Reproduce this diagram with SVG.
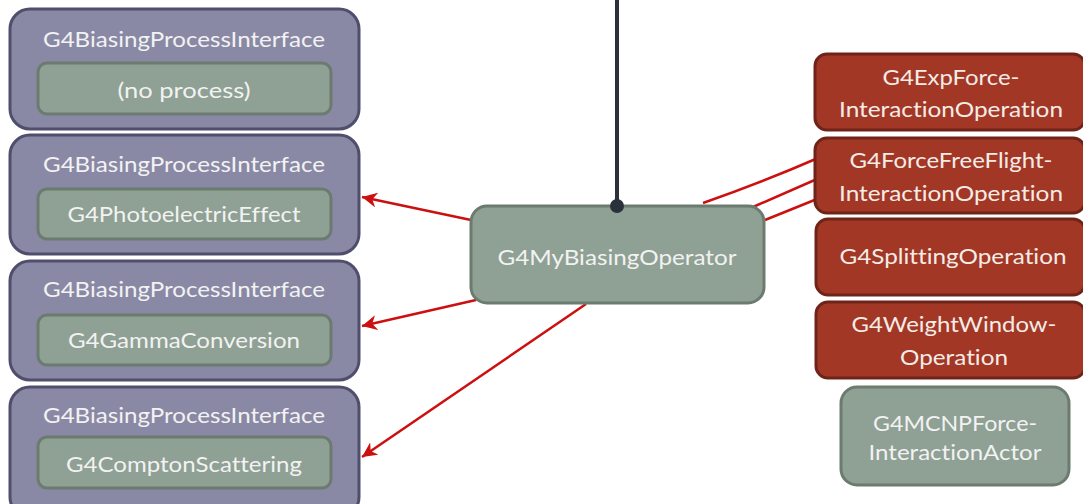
<svg xmlns="http://www.w3.org/2000/svg" width="1083" height="504" viewBox="0 0 1083 504">
  <defs>
    <style>
      .outer { fill: #8a89a5; stroke: #4f4e6c; stroke-width: 3; }
      .inner { fill: #8fa094; stroke: #6b7b6f; stroke-width: 3; }
      .op { fill: #a33726; stroke: #6e2419; stroke-width: 3; }
      .actor { fill: #8fa094; stroke: #6b7b6f; stroke-width: 3; }
      text { font-family: Lato, "Open Sans", "Liberation Sans", sans-serif; font-size: 21.5px; text-anchor: middle; font-variant-ligatures: none; font-feature-settings: "liga" 0, "dlig" 0, "clig" 0; }
      .lt { fill: #f2f2f2; }
      .rt { fill: #f5ece6; }
      .link { fill: none; stroke: #cc1010; stroke-width: 2.5; }
    </style>
    <marker id="arr" markerUnits="userSpaceOnUse" markerWidth="17" markerHeight="15" refX="15" refY="7.5" orient="auto">
      <path d="M0,0 L15,7.5 L0,15 L4.5,7.5 z" fill="#cc1010"/>
    </marker>
  </defs>
  <rect width="1083" height="504" fill="#ffffff"/>

  <!-- process interface stack -->
  <g id="pi-none">
    <rect class="outer" x="10" y="9" width="349" height="120" rx="20"/>
    <text class="lt" x="184" y="47" textLength="282" lengthAdjust="spacingAndGlyphs">G4BiasingProcessInterface</text>
    <rect class="inner" x="38" y="63" width="293" height="51" rx="9"/>
    <text class="lt" x="184" y="98" textLength="133" lengthAdjust="spacingAndGlyphs">(no process)</text>
  </g>
  <g id="pi-photo">
    <rect class="outer" x="10" y="135" width="349" height="119" rx="20"/>
    <text class="lt" x="184" y="172" textLength="282" lengthAdjust="spacingAndGlyphs">G4BiasingProcessInterface</text>
    <rect class="inner" x="38" y="189" width="293" height="50" rx="9"/>
    <text class="lt" x="184" y="222" textLength="233" lengthAdjust="spacingAndGlyphs">G4PhotoelectricEffect</text>
  </g>
  <g id="pi-conv">
    <rect class="outer" x="10" y="261" width="349" height="119" rx="20"/>
    <text class="lt" x="184" y="297" textLength="282" lengthAdjust="spacingAndGlyphs">G4BiasingProcessInterface</text>
    <rect class="inner" x="38" y="315" width="293" height="50" rx="9"/>
    <text class="lt" x="184" y="348" textLength="232" lengthAdjust="spacingAndGlyphs">G4GammaConversion</text>
  </g>
  <g id="pi-compt">
    <rect class="outer" x="10" y="387" width="349" height="130" rx="20"/>
    <text class="lt" x="184" y="423" textLength="282" lengthAdjust="spacingAndGlyphs">G4BiasingProcessInterface</text>
    <rect class="inner" x="38" y="437" width="293" height="51" rx="9"/>
    <text class="lt" x="184" y="472" textLength="236" lengthAdjust="spacingAndGlyphs">G4ComptonScattering</text>
  </g>

  <!-- connectors -->
  <g id="connectors">
    <line x1="617" y1="0" x2="617" y2="206" stroke="#2a313b" stroke-width="4"/>
    <path class="link" d="M471,220 L362,197" marker-end="url(#arr)"/>
    <path class="link" d="M476,300 L362,326" marker-end="url(#arr)"/>
    <path class="link" d="M586,304 L362,457" marker-end="url(#arr)"/>
    <path class="link" d="M703,203 Q763,182 818,158"/>
    <path class="link" d="M753,207 L817,179"/>
    <path class="link" d="M765,220 L817,199"/>
  </g>

  <!-- operator -->
  <g id="operator">
    <rect class="inner" x="471" y="206" width="293" height="97" rx="16"/>
    <text class="lt" x="617" y="265" textLength="239" lengthAdjust="spacingAndGlyphs">G4MyBiasingOperator</text>
    <circle cx="617" cy="206" r="7" fill="#2a313b"/>
  </g>

  <!-- operations -->
  <g id="op-expforce">
    <rect class="op" x="815" y="54" width="270" height="76" rx="12"/>
    <text class="rt" x="951" y="85" textLength="137" lengthAdjust="spacingAndGlyphs">G4ExpForce-</text>
    <text class="rt" x="951" y="117" textLength="224" lengthAdjust="spacingAndGlyphs">InteractionOperation</text>
  </g>
  <g id="op-forcefree">
    <rect class="op" x="815" y="138" width="270" height="75" rx="12"/>
    <text class="rt" x="951" y="168" textLength="203" lengthAdjust="spacingAndGlyphs">G4ForceFreeFlight-</text>
    <text class="rt" x="951" y="201" textLength="224" lengthAdjust="spacingAndGlyphs">InteractionOperation</text>
  </g>
  <g id="op-splitting">
    <rect class="op" x="816" y="219" width="269" height="76" rx="12"/>
    <text class="rt" x="953" y="264" textLength="227" lengthAdjust="spacingAndGlyphs">G4SplittingOperation</text>
  </g>
  <g id="op-weightwindow">
    <rect class="op" x="816" y="302" width="269" height="76" rx="12"/>
    <text class="rt" x="954" y="332" textLength="205" lengthAdjust="spacingAndGlyphs">G4WeightWindow-</text>
    <text class="rt" x="954" y="365" textLength="108" lengthAdjust="spacingAndGlyphs">Operation</text>
  </g>
  <g id="actor-mcnp">
    <rect class="actor" x="841" y="387" width="228" height="98" rx="16"/>
    <text class="lt" x="955" y="431" textLength="164" lengthAdjust="spacingAndGlyphs">G4MCNPForce-</text>
    <text class="lt" x="955" y="460" textLength="173" lengthAdjust="spacingAndGlyphs">InteractionActor</text>
  </g>
</svg>
